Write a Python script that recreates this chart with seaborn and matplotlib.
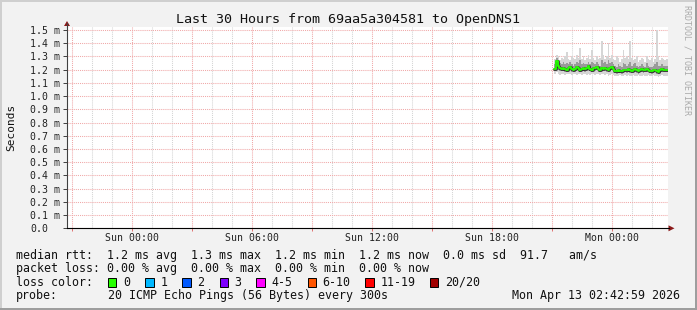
import numpy as np
import pandas as pd
import matplotlib
matplotlib.use("Agg")
import matplotlib.pyplot as plt
import seaborn as sns
from matplotlib.patches import Rectangle, Polygon
from matplotlib.lines import Line2D

# ---------------- data ----------------
title = "Last 30 Hours from 69aa5a304581 to OpenDNS1"
start_hour = 21.125          # hours relative to Sun 00:00 of the first probe
step_hours = 5 / 60          # probe every 300 s

median_ms = [1.205, 1.262, 1.228, 1.212, 1.208, 1.215, 1.205, 1.200, 1.210, 1.218,
             1.203, 1.198, 1.205, 1.222, 1.210, 1.200, 1.208, 1.215, 1.205, 1.212,
             1.225, 1.208, 1.200, 1.215, 1.210, 1.218, 1.205, 1.200, 1.212, 1.208,
             1.215, 1.202, 1.198, 1.210, 1.218, 1.205, 1.190, 1.188, 1.195, 1.192,
             1.188, 1.195, 1.200, 1.196, 1.205, 1.198, 1.192, 1.200, 1.205, 1.195,
             1.190, 1.198, 1.202, 1.195, 1.200, 1.205, 1.198, 1.192, 1.188, 1.195,
             1.200, 1.190, 1.182, 1.195, 1.202, 1.198, 1.200, 1.198]
max_ms = [1.28, 1.31, 1.30, 1.27, 1.29, 1.28, 1.30, 1.335, 1.28, 1.27,
          1.30, 1.29, 1.28, 1.31, 1.29, 1.366, 1.28, 1.30, 1.27, 1.29,
          1.31, 1.28, 1.35, 1.29, 1.27, 1.30, 1.28, 1.29, 1.42, 1.31,
          1.28, 1.30, 1.40, 1.29, 1.31, 1.28, 1.27, 1.30, 1.29, 1.26,
          1.28, 1.35, 1.29, 1.30, 1.28, 1.42, 1.29, 1.27, 1.28, 1.30,
          1.26, 1.27, 1.29, 1.28, 1.26, 1.30, 1.28, 1.27, 1.29, 1.26,
          1.28, 1.50, 1.30, 1.27, 1.29, 1.28, 1.27, 1.28]
min_ms = [1.17, 1.18, 1.17, 1.16, 1.17, 1.165, 1.16, 1.17, 1.165, 1.17,
          1.16, 1.165, 1.17, 1.16, 1.17, 1.165, 1.16, 1.17, 1.165, 1.16,
          1.17, 1.16, 1.165, 1.17, 1.16, 1.165, 1.17, 1.16, 1.165, 1.17,
          1.16, 1.165, 1.155, 1.16, 1.165, 1.16, 1.15, 1.15, 1.155, 1.16,
          1.155, 1.15, 1.16, 1.155, 1.16, 1.15, 1.155, 1.16, 1.15, 1.155,
          1.16, 1.15, 1.155, 1.16, 1.155, 1.15, 1.16, 1.155, 1.15, 1.16,
          1.155, 1.15, 1.145, 1.155, 1.16, 1.155, 1.15, 1.155]
upper_ms = [1.24, 1.29, 1.27, 1.25, 1.24, 1.26, 1.24, 1.25, 1.24, 1.26,
            1.24, 1.23, 1.24, 1.26, 1.25, 1.27, 1.24, 1.25, 1.24, 1.24,
            1.26, 1.24, 1.26, 1.25, 1.24, 1.26, 1.24, 1.23, 1.27, 1.25,
            1.26, 1.24, 1.27, 1.25, 1.26, 1.24, 1.23, 1.22, 1.24, 1.23,
            1.22, 1.25, 1.24, 1.23, 1.24, 1.26, 1.23, 1.24, 1.25, 1.23,
            1.22, 1.23, 1.24, 1.23, 1.22, 1.25, 1.23, 1.22, 1.22, 1.23,
            1.24, 1.26, 1.23, 1.23, 1.24, 1.23, 1.23, 1.23]
lower_ms = [1.19, 1.22, 1.20, 1.19, 1.19, 1.195, 1.185, 1.18, 1.19, 1.195,
            1.185, 1.18, 1.185, 1.20, 1.19, 1.18, 1.19, 1.195, 1.185, 1.19,
            1.20, 1.19, 1.18, 1.195, 1.19, 1.195, 1.185, 1.18, 1.19, 1.19,
            1.195, 1.185, 1.18, 1.19, 1.195, 1.185, 1.175, 1.17, 1.175, 1.175,
            1.17, 1.175, 1.18, 1.175, 1.185, 1.175, 1.175, 1.18, 1.185, 1.175,
            1.17, 1.18, 1.18, 1.175, 1.18, 1.185, 1.18, 1.175, 1.17, 1.175,
            1.18, 1.17, 1.165, 1.175, 1.18, 1.18, 1.18, 1.18]

y_ticks = [0.0, 0.1, 0.2, 0.3, 0.4, 0.5, 0.6, 0.7, 0.8, 0.9, 1.0, 1.1, 1.2, 1.3, 1.4, 1.5]
x_major = [-3, 0, 3, 6, 9, 12, 15, 18, 21, 24]
x_major_labels = ["", "Sun 00:00", "", "Sun 06:00", "", "Sun 12:00", "", "Sun 18:00", "", "Mon 00:00"]
x_minor = list(range(-3, 27))

rtt_line = "median rtt:  1.2 ms avg  1.3 ms max  1.2 ms min  1.2 ms now  0.0 ms sd  91.7   am/s"
loss_line = "packet loss: 0.00 % avg  0.00 % max  0.00 % min  0.00 % now"
loss_labels = ["0", "1", "2", "3", "4-5", "6-10", "11-19", "20/20"]
loss_colors = ["#26ff00", "#00b8ff", "#0059ff", "#7e00ff", "#ff00ff", "#ff5500", "#ff0000", "#a10000"]
probe_text = "20 ICMP Echo Pings (56 Bytes) every 300s"
stamp = "Mon Apr 13 02:42:59 2026"

# ---------------- figure ----------------
sns.set_theme(style="white")
plt.rcParams["font.family"] = ["DejaVu Sans Mono"]

W, H = 697, 310
BG = "#f2f2f2"
fig = plt.figure(figsize=(W / 100, H / 100), dpi=100, facecolor=BG)

def fx(x):
    return x / W

def fy(y):
    return 1 - y / H

L, R, T, B = 67, 668, 26.7, 228.3
PX_PER_MS = (B - 30.0) / 1.5
ax = fig.add_axes([fx(L), fy(B), fx(R) - fx(L), fy(T) - fy(B)])
ax.set_facecolor("white")
x_lo = -3.235
ax.set_xlim(x_lo, x_lo + (R - L) / 20.0)
ax.set_ylim(0, (B - T) / PX_PER_MS)

n = len(median_ms)
t = start_hour + step_hours * np.arange(n + 1)
def ext(a):
    return np.append(np.asarray(a, float), a[-1])

ax.fill_between(t, ext(min_ms), ext(max_ms), step="post", color="#d6d6d6", lw=0, zorder=2)
ax.fill_between(t, ext(lower_ms), ext(upper_ms), step="post", color="#9a9a9a", lw=0, zorder=3)
ax.plot(t, ext(median_ms), drawstyle="steps-post", color="#333333", lw=2.0, zorder=4)
df = pd.DataFrame({"t": t, "median": ext(median_ms)})
sns.lineplot(data=df, x="t", y="median", drawstyle="steps-post", color="#26ff00",
             lw=1.3, ax=ax, zorder=5, sort=False)

# grid
ax.set_yticks(y_ticks)
ax.set_yticklabels([("%.1f m" % v) if v > 0 else "0.0" for v in y_ticks])
ax.set_xticks(x_major)
ax.set_xticklabels(x_major_labels)
ax.set_xticks(x_minor, minor=True)
ax.set_axisbelow(True)
ax.grid(which="major", axis="both", color="#f0a8a8", linestyle=(0, (1, 1)), linewidth=0.75)
ax.grid(which="minor", axis="x", color="#d4d4d4", linestyle=(0, (1, 1)), linewidth=0.75)
ax.set_xlabel("")
ax.set_ylabel("")

for s in ["top", "right"]:
    ax.spines[s].set_visible(False)
ax.spines["bottom"].set_color("black")
ax.spines["bottom"].set_linewidth(0.8)
ax.spines["left"].set_color("#404040")
ax.spines["left"].set_linewidth(0.8)

ax.tick_params(axis="y", which="major", length=3, width=0.7, color="#404040",
               labelsize=7.1, labelcolor="#222222", pad=23.6, left=True)
for lab in ax.get_yticklabels():
    lab.set_horizontalalignment("left")
ax.tick_params(axis="x", which="major", length=2.5, width=0.7, color="#e07070",
               labelsize=7.1, labelcolor="#222222", pad=0.6, bottom=True)
ax.tick_params(axis="x", which="minor", length=0)

# axis extensions and arrows
fig.add_artist(Line2D([fx(L), fx(L)], [fy(T), fy(22.5)], color="#404040", lw=0.8))
fig.add_artist(Line2D([fx(R), fx(669)], [fy(B), fy(B)], color="black", lw=0.8))
arrow_c = "#8b1a1a"
fig.add_artist(Polygon([[fx(64), fy(26)], [fx(70), fy(26)], [fx(67), fy(21)]],
                       closed=True, color=arrow_c, lw=0))
fig.add_artist(Polygon([[fx(668.5), fy(225.3)], [fx(668.5), fy(231.3)], [fx(674.5), fy(228.3)]],
                       closed=True, color=arrow_c, lw=0))

# texts
fig.text(fx(348), fy(19), title, ha="center", va="center", fontsize=9.6, color="#111111")
fig.text(fx(11), fy(127), "Seconds", ha="center", va="center", rotation=90, fontsize=8, color="#111111")
fig.text(fx(687), fy(60), "RRDTOOL / TOBI OETIKER", ha="center", va="center", rotation=270,
         fontsize=6, color="#aaaaaa")

LEG = 8.4
fig.text(fx(16), fy(255), rtt_line, ha="left", va="center", fontsize=LEG, color="#111111")
fig.text(fx(16), fy(268.5), loss_line, ha="left", va="center", fontsize=LEG, color="#111111")
fig.text(fx(16), fy(282), "loss color:", ha="left", va="center", fontsize=LEG, color="#111111")
box_x = [108, 145.3, 182.2, 219.5, 256.4, 307.6, 365.3, 429.8]
for bx, lab, c in zip(box_x, loss_labels, loss_colors):
    fig.add_artist(Rectangle((fx(bx), fy(286.5)), 8.4 / W, 8.4 / H, facecolor=c,
                             edgecolor="black", lw=0.7))
    fig.text(fx(bx + 15), fy(282), lab, ha="left", va="center", fontsize=LEG, color="#111111")
fig.text(fx(16), fy(296), "probe:", ha="left", va="center", fontsize=LEG, color="#111111")
fig.text(fx(107.6), fy(296), probe_text, ha="left", va="center", fontsize=LEG, color="#111111")
fig.text(fx(680.5), fy(296), stamp, ha="right", va="center", fontsize=LEG, color="#111111")

# frame
fig.add_artist(Rectangle((0, fy(2)), 1, 2 / H, facecolor="#cfcfcf", lw=0))
fig.add_artist(Rectangle((0, 0), 2 / W, 1, facecolor="#cfcfcf", lw=0))
fig.add_artist(Rectangle((0, 0), 1, 2.5 / H, facecolor="#9e9e9e", lw=0))
fig.add_artist(Rectangle((1 - 2.5 / W, 0), 2.5 / W, 1, facecolor="#9e9e9e", lw=0))

fig.savefig("out.png", dpi=100, facecolor=BG)
